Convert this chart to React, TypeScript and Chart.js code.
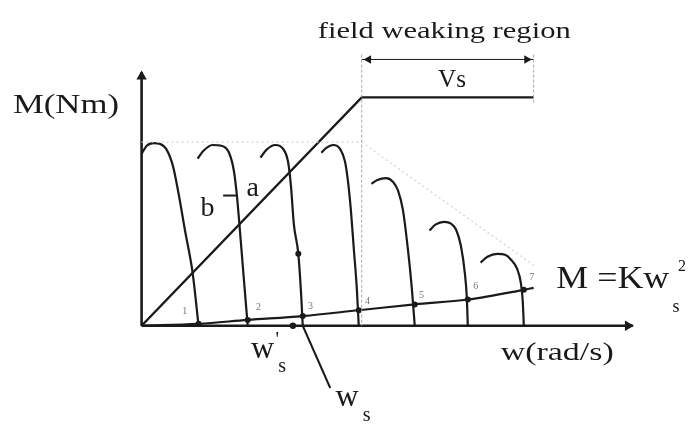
import React, { useEffect, useRef } from "react";
import { Chart, registerables } from "chart.js";

Chart.register(...registerables);

// ---- data (w in rad/s-units, M in Nm-units) ----
const torque1 = [[0, 70.8], [1, 74], [2.4, 75.2], [3.8, 74.8], [5, 72.8], [6.4, 65.6], [7.6, 53.6], [8.8, 39.6], [10.4, 21.6], [11.6, 0]];
const torque2 = [[11.4, 68.8], [12.6, 72], [14.4, 74.4], [16.4, 74], [17.8, 71.2], [18.8, 63.6], [19.4, 53.6], [20, 39.6], [20.8, 19.6], [21.6, 0]];
const torque3 = [[24.2, 69.2], [25.4, 72.4], [27.2, 74.4], [28.8, 72.8], [29.8, 67.6], [30.4, 57.6], [31, 41.6], [31.9, 29.6], [32.5, 12], [32.8, 0]];
const torque4 = [[36.6, 71.2], [37.6, 73.2], [39, 74.4], [40.4, 72.8], [41.4, 67.6], [42, 59.6], [42.6, 47.6], [43.2, 31.6], [43.8, 15.6], [44.2, 0]];
const torque5 = [[46.8, 58.4], [48, 60], [49.8, 60.8], [51.2, 59.2], [52.2, 55.6], [53.2, 47.6], [54.2, 31.6], [55, 15.6], [55.6, 0]];
const torque6 = [[58.6, 39.2], [59.8, 41.6], [61.6, 42.8], [63, 42], [64, 39.6], [65, 32.8], [65.8, 21.6], [66.2, 11.6], [66.4, 0]];
const torque7 = [[69, 26], [70.4, 28.4], [72.4, 29.6], [74, 29.2], [75.2, 27.2], [76.4, 23.6], [77.2, 17.6], [77.6, 9.6], [77.8, 0]];
const torqueCurves = [torque1, torque2, torque3, torque4, torque5, torque6, torque7];

const loadCurve = [[0, 0], [11.6, 0.8], [21.6, 2.4], [32.8, 4], [44.2, 6.4], [55.6, 8.8], [66.4, 10.8], [77.8, 14.8], [79.8, 15.6]];
const loadPoints = [[11.6, 0.8], [21.6, 2.4], [32.8, 4], [44.2, 6.4], [55.6, 8.8], [66.4, 10.8], [77.8, 14.8]];
const pointLabels = ["1", "2", "3", "4", "5", "6", "7"];
const pointLabelPos = [[8.8, 5], [23.8, 6.6], [34.4, 7], [46, 9], [57, 11.4], [68, 15], [79.4, 19]];

const voltageLine = [[0, 0], [44.8, 94], [79.8, 94]];
const envelope = [[0, 75.6], [44.8, 75.6], [80.4, 24]];
const guide1 = [[44.8, 111.6], [44.8, 0]];
const guide2 = [[79.8, 111.6], [79.8, 91.6]];
const fieldArrow = [[44.8, 109.6], [79.8, 109.6]];
const fieldArrowHeads = [[46.2, 109.6], [78.4, 109.6]];
const xAxisLine = [[0, 0], [100, 0]];
const yAxisLine = [[0, 0], [0, 104.4]];
const wPrimeDot = [[30.8, 0]];
const curve3Dot = [[31.9, 29.6]];
const wsPointer = [[32.8, 0], [38.4, -25.6]];
const baDash = [[16.6, 53.6], [19.2, 53.6]];

const W_MIN = -27.6, W_MAX = 110, M_MIN = -39.6, M_MAX = 131.6;
const FONT_FAMILY = '"Liberation Serif", "DejaVu Serif", serif';

// text labels: [text, w, M(baseline), size, align, targetWidth, colour]
const labels: [string, number, number, number, string, number, string][] = [
  ["field weaking region", 61.6, 118.4, 23, "center", 253, "#1a1a1a"],
  ["Vs", 63.2, 98.4, 26, "center", 28, "#1a1a1a"],
  ["M(Nm)", -15.4, 87.6, 28, "center", 106, "#1a1a1a"],
  ["b", 13.4, 45.2, 28, "center", 0, "#1a1a1a"],
  ["a", 22.6, 53.6, 28, "center", 0, "#1a1a1a"],
  ["w", 24.6, -13.2, 32, "center", 0, "#1a1a1a"],
  ["'", 27.6, -8.4, 20, "center", 0, "#1a1a1a"],
  ["s", 28.6, -19.2, 20, "center", 0, "#1a1a1a"],
  ["w", 41.8, -33.2, 32, "center", 0, "#1a1a1a"],
  ["s", 45.8, -39.0, 20, "center", 0, "#1a1a1a"],
  ["w(rad/s)", 84.6, -14, 26, "center", 113, "#1a1a1a"],
  ["M =Kw", 84.4, 15.6, 32, "left", 113, "#1a1a1a"],
  ["2", 110, 22.4, 16, "center", 0, "#1a1a1a"],
  ["s", 108.8, 5.6, 18, "center", 0, "#1a1a1a"],
];

const line = (data: number[][], extra: any = {}) => ({
  data: data.map(([x, y]) => ({ x, y })),
  showLine: true,
  borderColor: "#1a1a1a",
  borderWidth: 2.2,
  pointRadius: 0,
  fill: false,
  tension: 0,
  ...extra,
});

const textPlugin = {
  id: "textLabels",
  afterDatasetsDraw(chart: any) {
    const { ctx, scales } = chart;
    const draw = (t: string, w: number, m: number, size: number, align: string, tw: number, color: string) => {
      ctx.save();
      ctx.font = `${size}px ${FONT_FAMILY}`;
      ctx.fillStyle = color;
      ctx.textBaseline = "alphabetic";
      const px = scales.x.getPixelForValue(w);
      const py = scales.y.getPixelForValue(m);
      const mw = ctx.measureText(t).width;
      const sx = tw > 0 ? tw / mw : 1;
      ctx.translate(px, py);
      ctx.scale(sx, 1);
      ctx.textAlign = align;
      ctx.fillText(t, 0, 0);
      ctx.restore();
    };
    labels.forEach((l) => draw(l[0], l[1], l[2], l[3], l[4], l[5], l[6]));
    pointLabels.forEach((t, i) => draw(t, pointLabelPos[i][0], pointLabelPos[i][1], 10, "center", 0, "#777"));
  },
};

export default function App() {
  const ref = useRef<HTMLCanvasElement | null>(null);
  useEffect(() => {
    document.body.style.margin = "0";
    document.body.style.background = "#ffffff";
    if (!ref.current) return;
    const datasets: any[] = [
      line(envelope, { borderColor: "#d2d2d2", borderWidth: 1.2, borderDash: [2, 3] }),
      line(guide1, { borderColor: "#a8a8a8", borderWidth: 1, borderDash: [3, 2] }),
      line(guide2, { borderColor: "#a8a8a8", borderWidth: 1, borderDash: [3, 2] }),
      line(fieldArrow, { borderWidth: 1 }),
      line(fieldArrowHeads, {
        showLine: false,
        pointRadius: 5,
        pointStyle: "triangle",
        pointRotation: [270, 90],
        pointBackgroundColor: "#1a1a1a",
        pointBorderWidth: 0,
      }),
      line(xAxisLine, { borderWidth: 2.6 }),
      line(yAxisLine, { borderWidth: 2.6 }),
      line([[99, 0]], { showLine: false, pointRadius: 6, pointStyle: "triangle", pointRotation: 90, pointBackgroundColor: "#1a1a1a", pointBorderWidth: 0 }),
      line([[0, 102.6]], { showLine: false, pointRadius: 6, pointStyle: "triangle", pointRotation: 0, pointBackgroundColor: "#1a1a1a", pointBorderWidth: 0 }),
      line(voltageLine, { borderWidth: 2.4 }),
      ...torqueCurves.map((c) => line(c, { borderWidth: 2.2, cubicInterpolationMode: "monotone" })),
      line(loadCurve, { borderWidth: 2.2, cubicInterpolationMode: "monotone" }),
      line(loadPoints, { showLine: false, pointRadius: 3, pointBackgroundColor: "#1a1a1a", pointBorderWidth: 0 }),
      line(wPrimeDot, { showLine: false, pointRadius: 3.2, pointBackgroundColor: "#1a1a1a", pointBorderWidth: 0 }),
      line(curve3Dot, { showLine: false, pointRadius: 3, pointBackgroundColor: "#1a1a1a", pointBorderWidth: 0 }),
      line(wsPointer, { borderWidth: 2 }),
      line(baDash, { borderWidth: 2 }),
    ];
    const chart = new Chart(ref.current, {
      type: "scatter",
      data: { datasets },
      options: {
        animation: false,
        responsive: true,
        maintainAspectRatio: false,
        layout: { padding: 0 },
        events: [],
        plugins: { legend: { display: false }, tooltip: { enabled: false } },
        scales: {
          x: { type: "linear", display: false, min: W_MIN, max: W_MAX },
          y: { type: "linear", display: false, min: M_MIN, max: M_MAX },
        },
      },
      plugins: [textPlugin],
    });
    let alive = true;
    const fonts: any = (document as any).fonts;
    if (fonts && fonts.load) {
      fonts.load('20px "Liberation Serif"').then(() => {
        if (alive) chart.draw();
      }).catch(() => {});
    }
    return () => {
      alive = false;
      chart.destroy();
    };
  }, []);
  return (
    <div style={{ width: 688, height: 428, position: "relative", background: "#fff" }}>
      <canvas ref={ref} style={{ display: "block" }} />
    </div>
  );
}
